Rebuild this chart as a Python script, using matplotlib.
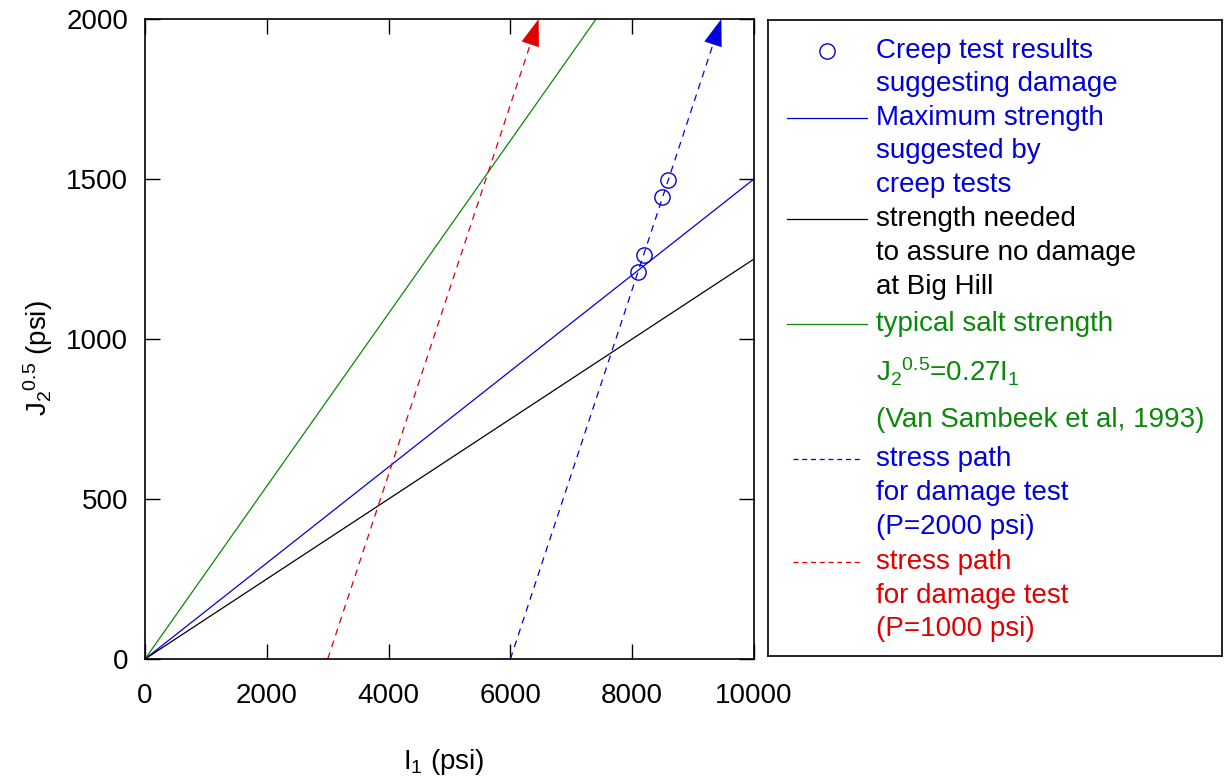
import matplotlib
matplotlib.use("Agg")
import matplotlib.pyplot as plt

plt.rcParams['font.family'] = ['Liberation Sans', 'DejaVu Sans']
plt.rcParams['mathtext.fontset'] = 'custom'
plt.rcParams['mathtext.rm'] = 'Liberation Sans'
plt.rcParams['mathtext.it'] = 'Liberation Sans'
plt.rcParams['mathtext.default'] = 'regular'

# ---- data ----
creep_I1 = [8095, 8190, 8490, 8590]
creep_J = [1209, 1262, 1443, 1498]

max_strength_I1 = [0, 10000]
max_strength_J = [0, 1500]

needed_I1 = [0, 10000]
needed_J = [0, 1250]

salt_I1 = [0, 7407]
salt_J = [0, 2000]

path2000_I1 = [6000, 9464]
path2000_J = [0, 2000]

path1000_I1 = [3000, 6464]
path1000_J = [0, 2000]

xticks = [0, 2000, 4000, 6000, 8000, 10000]
yticks = [0, 500, 1000, 1500, 2000]

BLUE = '#0000dd'
RED = '#e00000'
GREEN = '#0a880a'
BLACK = '#000000'

W, H = 1225, 782
fig = plt.figure(figsize=(W / 100, H / 100), dpi=100)

ax = fig.add_axes([145 / W, (H - 659) / H, 609 / W, 640 / H])
ax.plot(max_strength_I1, max_strength_J, color=BLUE, lw=0.9)
ax.plot(needed_I1, needed_J, color=BLACK, lw=0.9)
ax.plot(salt_I1, salt_J, color=GREEN, lw=0.9)
ax.plot(path2000_I1, path2000_J, color=BLUE, lw=0.9, ls=(0, (5.5, 4.5)))
ax.plot(path1000_I1, path1000_J, color=RED, lw=0.9, ls=(0, (5.5, 4.5)))
ax.plot(creep_I1, creep_J, ls='none', marker='o', ms=11, mfc='none',
        mec=BLUE, mew=1.0)

for xs, ys, c in [(path2000_I1, path2000_J, BLUE), (path1000_I1, path1000_J, RED)]:
    x1, y1 = xs[-1], ys[-1]
    x0 = x1 - (xs[-1] - xs[0]) * 0.04
    y0 = y1 - (ys[-1] - ys[0]) * 0.04
    ax.annotate('', xy=(x1, y1), xytext=(x0, y0),
                arrowprops=dict(arrowstyle='-|>,head_length=1.9,head_width=0.65',
                                mutation_scale=10, color=c, lw=0.1,
                                shrinkA=0, shrinkB=0), annotation_clip=False)

ax.set_xlim(0, 10000)
ax.set_ylim(0, 2000)
ax.set_xticks(xticks)
ax.set_yticks(yticks)
ax.tick_params(direction='in', length=11, width=1.0, labelsize=20,
               top=True, right=True, pad=17)
ax.tick_params(axis='y', pad=12)
for s in ax.spines.values():
    s.set_linewidth(1.2)

ax.set_xlabel(r'$I_1$ (psi)', fontsize=20)
ax.set_ylabel(r'$J_2{}^{0.5}$ (psi)', fontsize=20)
ax.xaxis.set_label_coords(0.49, -0.138)
ax.yaxis.set_label_coords(-0.148, 0.47)

# ---- legend box (pixel coordinates) ----
lg = fig.add_axes([768 / W, (H - 656) / H, 454 / W, 636 / H])
lg.set_xlim(768, 1222)
lg.set_ylim(656, 20)
lg.set_xticks([])
lg.set_yticks([])
for s in lg.spines.values():
    s.set_linewidth(1.2)

entries = [
    (['Creep test results', 'suggesting damage'], BLUE, 'marker', '-'),
    (['Maximum strength', 'suggested by', 'creep tests'], BLUE, 'line', '-'),
    (['strength needed', 'to assure no damage', 'at Big Hill'], BLACK, 'line', '-'),
    (['typical salt strength'], GREEN, 'line', '-'),
    ([r'$J_2{}^{0.5}$=0.27$I_1$', '(Van Sambeek et al, 1993)'], GREEN, None, '-'),
    (['stress path', 'for damage test', '(P=2000 psi)'], BLUE, 'line', (0, (4, 3))),
    (['stress path', 'for damage test', '(P=1000 psi)'], RED, 'line', (0, (4, 3))),
]
line_ys = [
    [51, 84],
    [118, 151, 185],
    [219, 253, 287],
    [324],
    [372, 420],
    [459, 493, 527],
    [562, 596, 629],
]
for (lines, color, kind, ls), ys in zip(entries, line_ys):
    for t, y in zip(lines, ys):
        lg.text(876, y, t, color=color, fontsize=20, va='center', ha='left')
    if kind == 'marker':
        lg.plot([827], [ys[0]], marker='o', ms=11, mfc='none', mec=color, mew=1.0)
    elif kind == 'line':
        if ls == '-':
            lg.plot([787, 867], [ys[0], ys[0]], color=color, lw=0.9)
        else:
            lg.plot([793, 862], [ys[0], ys[0]], color=color, lw=0.9, ls=ls)

fig.savefig('out.png', dpi=100)
